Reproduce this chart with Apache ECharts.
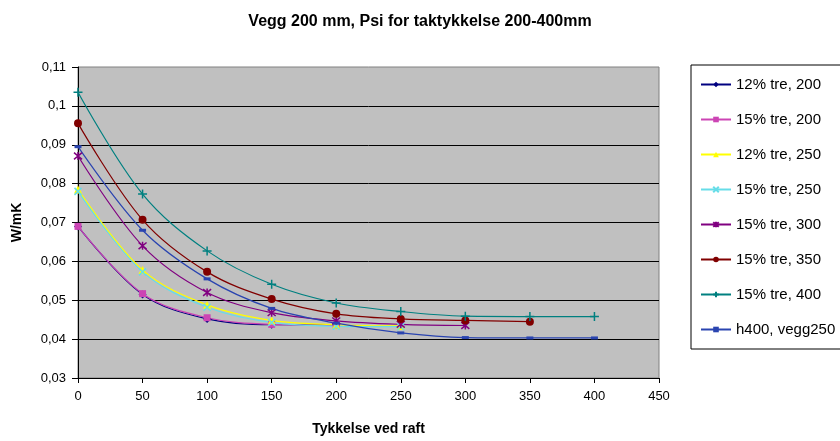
<!DOCTYPE html>
<html>
<head>
<meta charset="utf-8">
<script src="https://cdn.jsdelivr.net/npm/echarts@6/dist/echarts.min.js"></script>
<style>
  html, body { margin: 0; padding: 0; background: #fff; }
  #main { width: 840px; height: 441px; }
</style>
</head>
<body>
<div id="main"></div>
<script>
// x values (Tykkelse ved raft)
const xValues = [0, 50, 100, 150, 200, 250, 300, 350, 400];

// W/mK
const tre12_200 = [0.0690, 0.0515, 0.0452, 0.0437, 0.0437];
const tre15_200 = [0.0690, 0.0517, 0.0455, 0.0438, 0.0436];
const tre12_250 = [0.0785, 0.0578, 0.0488, 0.0448, 0.0437, 0.0434];
const tre15_250 = [0.0780, 0.0573, 0.0482, 0.0443, 0.0433, 0.0432];
const tre15_300 = [0.0871, 0.0640, 0.0520, 0.0468, 0.0447, 0.0438, 0.0435];
const tre15_350 = [0.0955, 0.0707, 0.0573, 0.0503, 0.0465, 0.0452, 0.0448, 0.0445];
const tre15_400 = [0.1035, 0.0773, 0.0627, 0.0541, 0.0493, 0.0471, 0.0459, 0.0458, 0.0458];
const h400_vegg250 = [0.0895, 0.0680, 0.0555, 0.0479, 0.0441, 0.0416, 0.0404, 0.0403, 0.0403];

const seriesNames = ['12% tre, 200', '15% tre, 200', '12% tre, 250', '15% tre, 250',
  '15% tre, 300', '15% tre, 350', '15% tre, 400', 'h400, vegg250'];

const FONT = 'Liberation Sans, Arial, sans-serif';

function pairs(vals) {
  return vals.map((v, i) => [xValues[i], v]);
}

// marker shapes (stroke only ones are paths)
const X_PATH = 'path://M0,0L10,10M10,0L0,10';
const STAR_PATH = 'path://M0,0L10,10M10,0L0,10M5,-1L5,11';
const PLUS_PATH = 'path://M5,0L5,10M0,5L10,5';

function line(name, vals, color, symbol, size, strokeOnly) {
  return {
    name: name,
    type: 'line',
    data: pairs(vals),
    smooth: 0.35,
    symbol: symbol,
    symbolSize: size,
    showAllSymbol: true,
    lineStyle: { color: color, width: 1.2 },
    itemStyle: strokeOnly
      ? { color: color, borderColor: color, borderWidth: 1.5 }
      : { color: color },
    emphasis: { disabled: true }
  };
}

const chart = echarts.init(document.getElementById('main'));

const option = {
  backgroundColor: '#ffffff',
  animation: false,
  title: {
    text: 'Vegg 200 mm, Psi for taktykkelse 200-400mm',
    left: 'center',
    top: 9,
    textStyle: { fontFamily: FONT, fontSize: 16, fontWeight: 'bold', color: '#000' }
  },
  grid: {
    left: 78,
    right: 181,
    top: 67,
    bottom: 59,
    show: true,
    backgroundColor: '#c0c0c0',
    borderColor: '#808080',
    borderWidth: 1
  },
  legend: {
    orient: 'vertical',
    left: 691,
    top: 65,
    data: seriesNames,
    itemWidth: 30,
    itemHeight: 7,
    itemGap: 20,
    padding: [12, 10, 12, 9],
    borderColor: '#000',
    borderWidth: 1,
    textStyle: { fontFamily: FONT, fontSize: 15, color: '#000' }
  },
  xAxis: {
    type: 'value',
    min: 0,
    max: 450,
    interval: 50,
    name: 'Tykkelse ved raft',
    nameLocation: 'middle',
    nameGap: 44,
    nameTextStyle: { fontFamily: FONT, fontSize: 14, fontWeight: 'bold', color: '#000' },
    axisLine: { lineStyle: { color: '#000', width: 1 } },
    axisTick: { show: true, inside: false, length: 5, lineStyle: { color: '#000' } },
    axisLabel: { fontFamily: FONT, fontSize: 13, color: '#000', margin: 12 },
    splitLine: { show: false }
  },
  yAxis: {
    type: 'value',
    min: 0.03,
    max: 0.11,
    interval: 0.01,
    name: 'W/mK',
    nameLocation: 'middle',
    nameRotate: 90,
    nameGap: 54,
    nameTextStyle: { fontFamily: FONT, fontSize: 14, fontWeight: 'bold', color: '#000' },
    axisLine: { show: true, lineStyle: { color: '#000', width: 1 } },
    axisTick: { show: true, inside: false, length: 6, lineStyle: { color: '#000' } },
    axisLabel: {
      fontFamily: FONT, fontSize: 13, color: '#000', margin: 12,
      formatter: v => String(Math.round(v * 100) / 100).replace('.', ',')
    },
    splitLine: { show: true, showMaxLine: false, lineStyle: { color: '#000', width: 1 } }
  },
  series: [
    line(seriesNames[0], tre12_200, '#000080', 'diamond', 8, false),
    line(seriesNames[1], tre15_200, '#cc44b4', 'rect', 7, false),
    line(seriesNames[2], tre12_250, '#ffff00', 'triangle', 8, false),
    line(seriesNames[3], tre15_250, '#66dde8', X_PATH, 7, true),
    line(seriesNames[4], tre15_300, '#800080', STAR_PATH, 8, true),
    line(seriesNames[5], tre15_350, '#800000', 'circle', 8, false),
    line(seriesNames[6], tre15_400, '#008080', PLUS_PATH, 9, true),
    line(seriesNames[7], h400_vegg250, '#2a44b0', 'rect', [7, 3], false)
  ]
};

chart.setOption(option);
</script>
</body>
</html>
